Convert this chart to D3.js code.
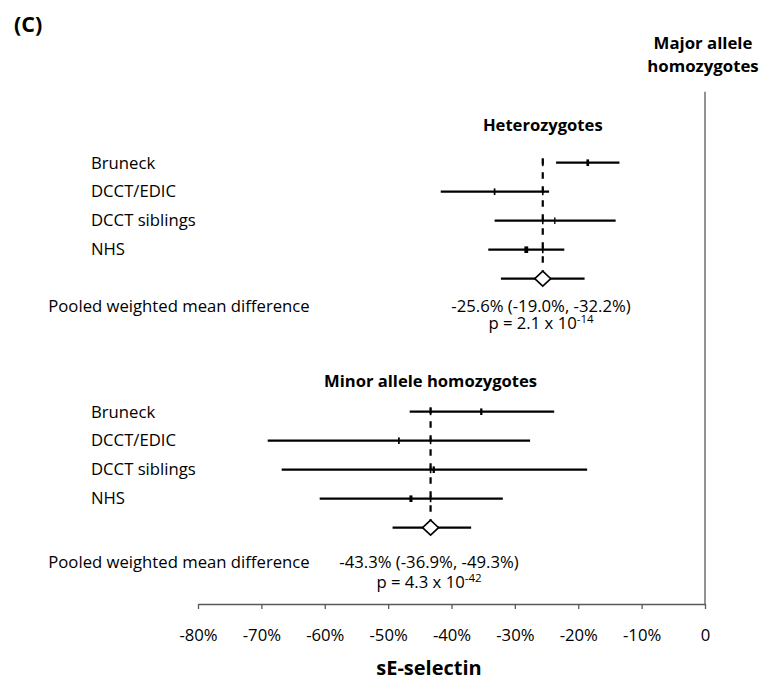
<!DOCTYPE html>
<html>
<head>
<meta charset="utf-8">
<script src="https://cdn.jsdelivr.net/npm/d3@7"></script>
<style>
  html, body { margin: 0; padding: 0; background: #fff; }
  svg { display: block; font-family: "Open Sans", sans-serif; }
</style>
</head>
<body>
<div id="chart"></div>
<script>
// ---------- data ----------
const studies = ["Bruneck", "DCCT/EDIC", "DCCT siblings", "NHS"];

const hetEst  = [-18.5, -33.2, -23.7, -28.2];
const hetLow  = [-23.5, -41.7, -33.2, -34.2];
const hetHigh = [-13.5, -24.6, -14.1, -22.2];
const hetWeight = [0.7, 0.45, 0.35, 1.0];
const hetPooled = [-25.6, -32.2, -19.0];   // estimate, lower, upper
const hetPText = ["2.1", "-14"];

const minEst  = [-35.3, -48.3, -42.8, -46.4];
const minLow  = [-46.6, -69.0, -66.8, -60.8];
const minHigh = [-23.8, -27.6, -18.6, -31.9];
const minWeight = [0.6, 0.45, 0.6, 0.8];
const minPooled = [-43.3, -49.3, -36.9];
const minPText = ["4.3", "-42"];

const xTicks = [-80, -70, -60, -50, -40, -30, -20, -10, 0];
const groupTitles = ["Heterozygotes", "Minor allele homozygotes"];
const refTitle = ["Major allele", "homozygotes"];
const axisTitle = "sE-selectin";
const panelLabel = "(C)";
const pooledLabel = "Pooled weighted mean difference";

// ---------- layout ----------
const W = 764, H = 682;
const svg = d3.select("#chart").append("svg").attr("width", W).attr("height", H);

const x = d3.scaleLinear().domain([-80, 0]).range([198, 705]);
const axisY = 604;
const rowKeys = [0, 1, 2, 3, 4];
const yRow = d3.scalePoint().domain(rowKeys).range([0, 116]);
const wScale = d3.scaleLinear().domain([0, 1]).range([0, 3.8]);
const fmt = v => (v === 0 ? "0" : v + "%");
const pct = v => v.toFixed(1) + "%";

// panel label
svg.append("text").attr("x", 14).attr("y", 31.5)
  .attr("font-size", 21.5).attr("font-weight", 700).text(panelLabel);

// reference column title (two lines in one text)
const rt = svg.append("text").attr("text-anchor", "middle")
  .attr("font-size", 16.8).attr("font-weight", 700);
rt.append("tspan").attr("x", 703).attr("y", 49.3).text(refTitle[0]);
rt.append("tspan").attr("x", 703).attr("y", 71.5).text(refTitle[1]);

// vertical zero line
svg.append("line").attr("x1", x(0)).attr("x2", x(0)).attr("y1", 91.7).attr("y2", axisY)
  .attr("stroke", "#595959").attr("stroke-width", 1.3);

// axis
const axis = d3.axisBottom(x).tickValues(xTicks).tickFormat(fmt)
  .tickSize(5).tickSizeOuter(0).tickPadding(20);
const gAxis = svg.append("g").attr("transform", `translate(0,${axisY})`).call(axis);
gAxis.select(".domain").attr("stroke", "#595959").attr("stroke-width", 1.3);
gAxis.selectAll(".tick line").attr("stroke", "#595959").attr("stroke-width", 1.3);
gAxis.selectAll(".tick text").attr("font-size", 16.7).attr("fill", "#000")
  .attr("font-family", "Open Sans, sans-serif");

svg.append("text").attr("x", 429).attr("y", 675).attr("text-anchor", "middle")
  .attr("font-size", 20).attr("font-weight", 700).text(axisTitle);

// ---------- panels ----------
const panels = [
  { top: 162.7, titleY: 130.5, statY: 311.5, pY: 329, est: hetEst, low: hetLow, high: hetHigh,
    wt: hetWeight, pooled: hetPooled, p: hetPText, title: groupTitles[0], statX: 541, labelY: 311.5 },
  { top: 411.7, titleY: 386.7, statY: 568, pY: 588, est: minEst, low: minLow, high: minHigh,
    wt: minWeight, pooled: minPooled, p: minPText, title: groupTitles[1], statX: 429, labelY: 568 }
];

panels.forEach(P => {
  const g = svg.append("g").attr("transform", `translate(0,${P.top})`);
  const rows = studies.map((s, i) => ({ s, i, est: P.est[i], low: P.low[i], high: P.high[i], w: P.wt[i] }));
  const px = x(P.pooled[0]);

  // group title
  svg.append("text").attr("x", px).attr("y", P.titleY).attr("text-anchor", "middle")
    .attr("font-size", 16.6).attr("font-weight", 700).text(P.title);

  // study labels
  g.selectAll("text.lab").data(rows).join("text").attr("class", "lab")
    .attr("x", 91).attr("y", d => yRow(d.i) + 5.8)
    .attr("font-size", 16.7).text(d => d.s);

  // CI lines
  g.selectAll("line.ci").data(rows).join("line").attr("class", "ci")
    .attr("x1", d => x(d.low)).attr("x2", d => x(d.high))
    .attr("y1", d => yRow(d.i)).attr("y2", d => yRow(d.i))
    .attr("stroke", "#000").attr("stroke-width", 2.2);

  // dashed pooled line
  const dTop = yRow(0) - 4.5, dBot = yRow(4) - 7.5;
  g.append("line").attr("x1", px).attr("x2", px).attr("y1", dTop).attr("y2", dBot)
    .attr("stroke", "#000").attr("stroke-width", 2.2).attr("stroke-dasharray", "6.5,7.5");

  // crossing ticks at pooled
  g.selectAll("line.cross").data(rows).join("line").attr("class", "cross")
    .attr("x1", px).attr("x2", px)
    .attr("y1", d => yRow(d.i) - 3.5).attr("y2", d => yRow(d.i) + 3.5)
    .attr("stroke", "#000").attr("stroke-width", 1.6);

  // point estimate markers
  g.selectAll("rect.est").data(rows).join("rect").attr("class", "est")
    .attr("x", d => x(d.est) - Math.max(1.2, wScale(d.w)) / 2)
    .attr("width", d => Math.max(1.2, wScale(d.w)))
    .attr("y", d => yRow(d.i) - 3.3).attr("height", 6.6)
    .attr("fill", "#000");

  // pooled CI + diamond
  const yp = yRow(4);
  g.append("line").attr("x1", x(P.pooled[1])).attr("x2", x(P.pooled[2]))
    .attr("y1", yp).attr("y2", yp).attr("stroke", "#000").attr("stroke-width", 2.2);
  g.append("path")
    .attr("d", `M${px - 8},${yp} L${px},${yp - 7.5} L${px + 8},${yp} L${px},${yp + 7.5} Z`)
    .attr("fill", "#fff").attr("stroke", "#000").attr("stroke-width", 1.6);

  // pooled labels
  svg.append("text").attr("x", 48.3).attr("y", P.labelY).attr("font-size", 16.7).text(pooledLabel);
  const st = svg.append("text").attr("text-anchor", "middle").attr("font-size", 16.7);
  st.append("tspan").attr("x", P.statX).attr("y", P.statY)
    .text(`${pct(P.pooled[0])} (${pct(P.pooled[2])}, ${pct(P.pooled[1])})`);
  st.append("tspan").attr("x", P.statX).attr("y", P.pY).text(`p = ${P.p[0]} x 10`);
  st.append("tspan").attr("dy", -6).attr("font-size", 11.5).text(P.p[1]);
});
</script>
</body>
</html>
